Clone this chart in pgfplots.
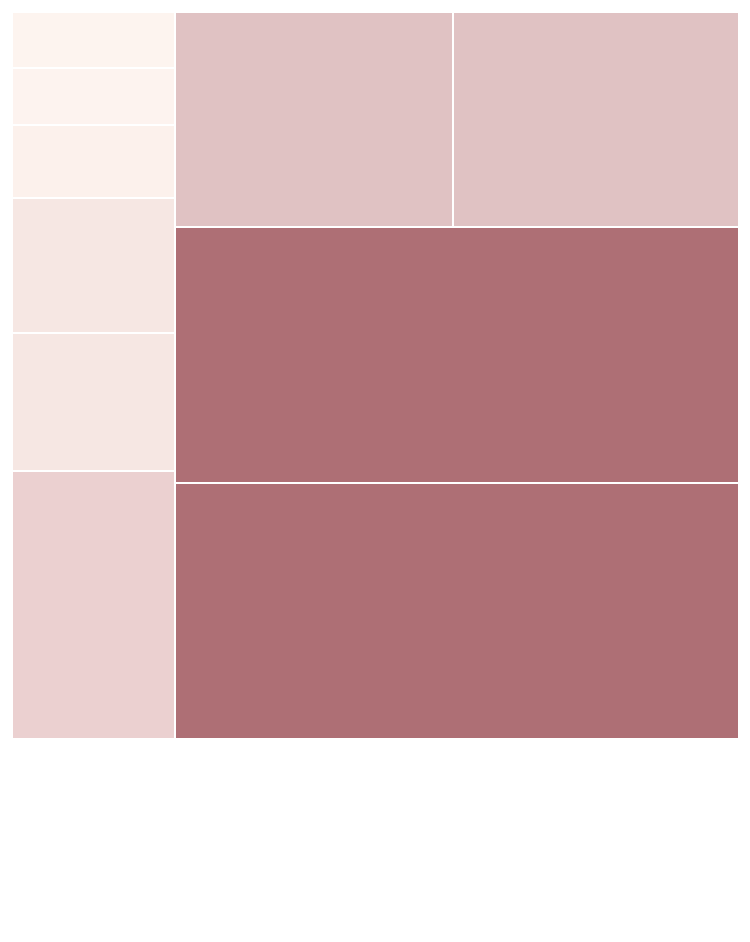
\documentclass[border=0pt]{standalone}
\usepackage{pgfplots}
\pgfplotsset{compat=1.18}
\definecolor{cA}{HTML}{FDF4EF}
\definecolor{cB}{HTML}{FDF3EF}
\definecolor{cC}{HTML}{FCF1EC}
\definecolor{cD}{HTML}{F6E7E3}
\definecolor{cE}{HTML}{F6E7E3}
\definecolor{cF}{HTML}{EBD0D0}
\definecolor{cG}{HTML}{E0C2C3}
\definecolor{cH}{HTML}{AE6F75}
\begin{document}
\begin{tikzpicture}
\begin{axis}[
  scale only axis, width=7.5cm, height=9.42cm,
  xmin=0, xmax=750, ymin=0, ymax=942, y dir=reverse,
  axis lines=none, ticks=none, clip=false,
  every axis plot/.append style={draw=white, line width=0.017cm, line join=miter},
]
\addplot[fill=white, draw=none] coordinates {(0,0) (750,0) (750,942) (0,942)} --cycle;
% left column
\addplot[fill=cA] coordinates {(11.8,12.3) (174.9,12.3) (174.9,68) (11.8,68)} --cycle;
\addplot[fill=cB] coordinates {(11.8,68) (174.9,68) (174.9,125) (11.8,125)} --cycle;
\addplot[fill=cC] coordinates {(11.8,125) (174.9,125) (174.9,198) (11.8,198)} --cycle;
\addplot[fill=cD] coordinates {(11.8,198) (174.9,198) (174.9,333) (11.8,333)} --cycle;
\addplot[fill=cE] coordinates {(11.8,333) (174.9,333) (174.9,471) (11.8,471)} --cycle;
\addplot[fill=cF] coordinates {(11.8,471) (174.9,471) (174.9,738.6) (11.8,738.6)} --cycle;
% right part
\addplot[fill=cG] coordinates {(174.9,12.3) (453.2,12.3) (453.2,226.8) (174.9,226.8)} --cycle;
\addplot[fill=cG] coordinates {(453.2,12.3) (738.6,12.3) (738.6,226.8) (453.2,226.8)} --cycle;
\addplot[fill=cH] coordinates {(174.9,226.8) (738.6,226.8) (738.6,482.9) (174.9,482.9)} --cycle;
\addplot[fill=cH] coordinates {(174.9,482.9) (738.6,482.9) (738.6,738.6) (174.9,738.6)} --cycle;
\end{axis}
\end{tikzpicture}
\end{document}
